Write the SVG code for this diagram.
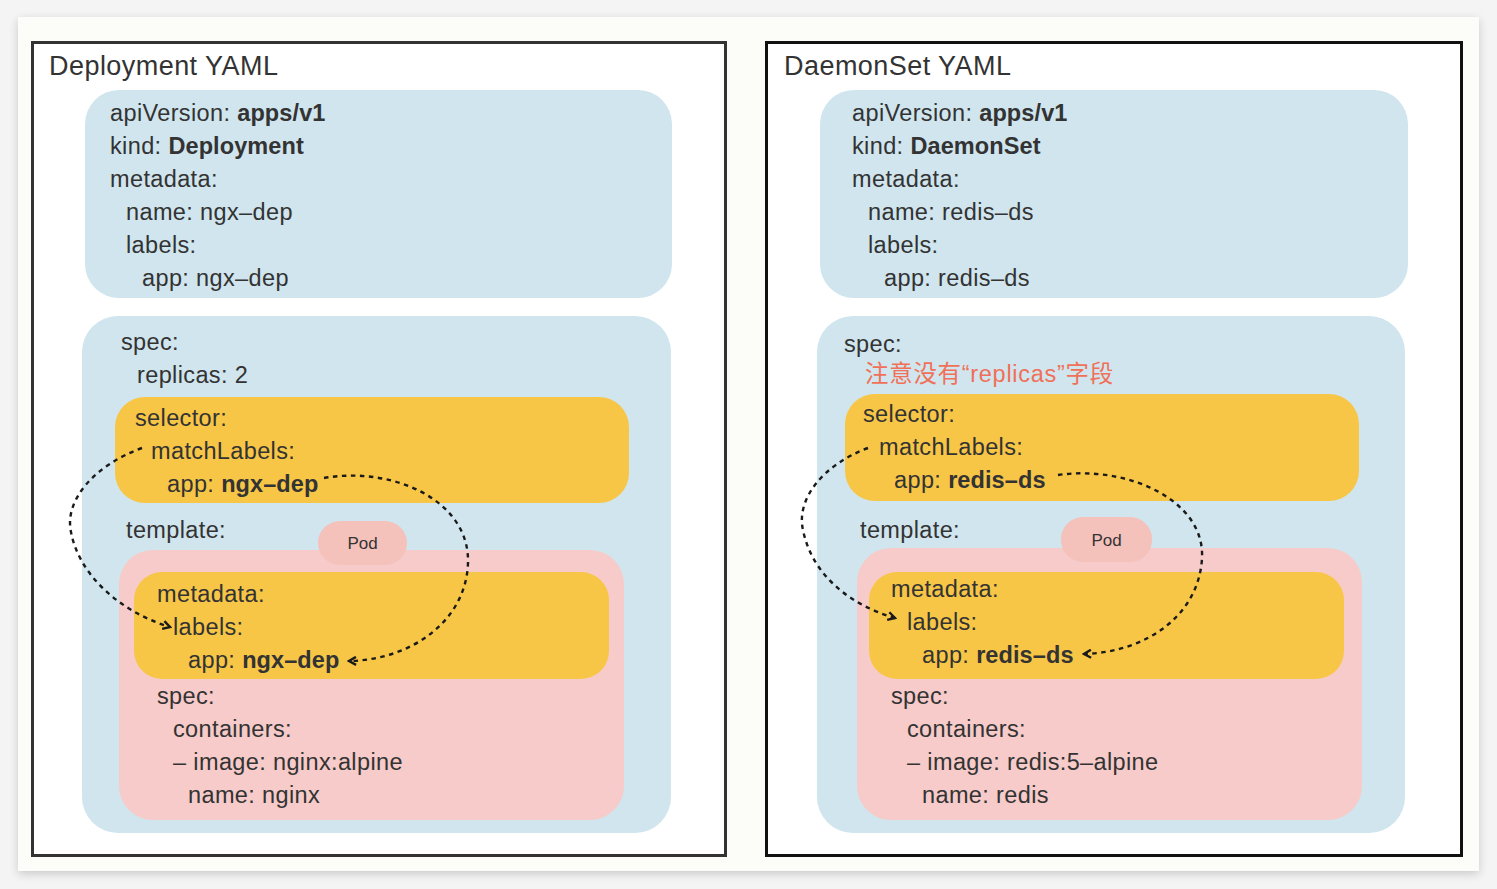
<svg xmlns="http://www.w3.org/2000/svg" width="1497" height="889" viewBox="0 0 1497 889">
<defs>
<filter id="sh" x="-5%" y="-5%" width="110%" height="110%">
<feGaussianBlur in="SourceAlpha" stdDeviation="5"/>
<feOffset dx="0" dy="3"/>
<feComponentTransfer><feFuncA type="linear" slope="0.18"/></feComponentTransfer>
<feMerge><feMergeNode/><feMergeNode in="SourceGraphic"/></feMerge>
</filter>
<marker id="ah" viewBox="0 0 10 10" refX="8" refY="5" markerWidth="10" markerHeight="10" markerUnits="userSpaceOnUse" orient="auto">
<path d="M1,1 L8,5 L1,9" fill="none" stroke="#1a1a1a" stroke-width="2.4" stroke-linejoin="miter"/>
</marker>
</defs>
<style>
text{font-family:"Liberation Sans","Noto Sans CJK SC",Arial,sans-serif;fill:#333;font-size:23.5px;letter-spacing:0.37px}
.t{font-size:27px;letter-spacing:0.45px}
.b{font-weight:bold;letter-spacing:0.1px}
.pod{font-size:17px;letter-spacing:0}
.red{fill:#f07058;letter-spacing:0.7px}
.blue{fill:#d0e5ee}
.yel{fill:#f8c646}
.pink{fill:#f7cbc9}
.pill{fill:#f5c1bb}
.conn{fill:none;stroke:#1a1a1a;stroke-width:2.4;stroke-dasharray:4.5 4.5;marker-end:url(#ah)}
</style>
<rect width="1497" height="889" fill="#f4f4f4"/>
<rect x="18" y="17" width="1461" height="854" fill="#fcfcf8" filter="url(#sh)"/>

<g id="deployment">
<rect x="32.5" y="42.5" width="693" height="813" fill="#fff" stroke="#333" stroke-width="3"/>
<text class="t" x="49" y="75">Deployment YAML</text>
<g id="dep-meta">
<rect class="blue" x="85" y="90" width="587" height="208" rx="34"/>
<text x="110" y="121">apiVersion: <tspan class="b">apps/v1</tspan></text>
<text x="110" y="154">kind: <tspan class="b">Deployment</tspan></text>
<text x="110" y="187">metadata:</text>
<text x="126" y="220">name: ngx–dep</text>
<text x="126" y="253">labels:</text>
<text x="142" y="286">app: ngx–dep</text>
</g>
<g id="dep-spec">
<rect class="blue" x="82" y="316" width="589" height="517" rx="36"/>
<text x="121" y="350">spec:</text>
<text x="137" y="383">replicas: 2</text>
</g>
<g id="dep-selector">
<rect class="yel" x="115" y="397" width="514" height="106" rx="30"/>
<text x="135" y="426">selector:</text>
<text x="151" y="459">matchLabels:</text>
<text x="167" y="492">app: <tspan class="b">ngx–dep</tspan></text>
</g>
<text x="126" y="538">template:</text>
<g id="dep-template">
<rect class="pink" x="119" y="550" width="505" height="270" rx="34"/>
<g id="dep-pod">
<rect class="pill" x="318" y="521" width="89" height="44" rx="22"/>
<text class="pod" x="362.5" y="549" text-anchor="middle">Pod</text>
</g>
<g id="dep-tmeta">
<rect class="yel" x="134" y="572" width="475" height="107" rx="28"/>
<text x="157" y="602">metadata:</text>
<text x="173" y="635">labels:</text>
<text x="188" y="668">app: <tspan class="b">ngx–dep</tspan></text>
</g>
<text x="157" y="704">spec:</text>
<text x="173" y="737">containers:</text>
<text x="173" y="770">– image: nginx:alpine</text>
<text x="188" y="803">name: nginx</text>
</g>
</g>

<g id="daemonset">
<rect x="766.5" y="42.5" width="695" height="813" fill="#fff" stroke="#111" stroke-width="3"/>
<text class="t" x="784" y="75">DaemonSet YAML</text>
<g id="ds-meta">
<rect class="blue" x="820" y="90" width="588" height="208" rx="34"/>
<text x="852" y="121">apiVersion: <tspan class="b">apps/v1</tspan></text>
<text x="852" y="154">kind: <tspan class="b">DaemonSet</tspan></text>
<text x="852" y="187">metadata:</text>
<text x="868" y="220">name: redis–ds</text>
<text x="868" y="253">labels:</text>
<text x="884" y="286">app: redis–ds</text>
</g>
<g id="ds-spec">
<rect class="blue" x="817" y="316" width="588" height="517" rx="36"/>
<text x="844" y="352">spec:</text>
<text class="red" x="865" y="382">注意没有“replicas”字段</text>
</g>
<g id="ds-selector">
<rect class="yel" x="845" y="394" width="514" height="107" rx="30"/>
<text x="863" y="422">selector:</text>
<text x="879" y="455">matchLabels:</text>
<text x="894" y="488">app: <tspan class="b">redis–ds</tspan></text>
</g>
<text x="860" y="538">template:</text>
<g id="ds-template">
<rect class="pink" x="857" y="548" width="505" height="272" rx="34"/>
<g id="ds-pod">
<rect class="pill" x="1061" y="517" width="91" height="45" rx="22"/>
<text class="pod" x="1106.5" y="546" text-anchor="middle">Pod</text>
</g>
<g id="ds-tmeta">
<rect class="yel" x="869" y="572" width="475" height="107" rx="28"/>
<text x="891" y="597">metadata:</text>
<text x="907" y="630">labels:</text>
<text x="922" y="663">app: <tspan class="b">redis–ds</tspan></text>
</g>
<text x="891" y="704">spec:</text>
<text x="907" y="737">containers:</text>
<text x="907" y="770">– image: redis:5–alpine</text>
<text x="922" y="803">name: redis</text>
</g>
</g>

<g id="connectors">
<path class="conn" d="M324,478 C392,466 470,500 468,563 C466,622 410,660 349,661"/>
<path class="conn" d="M142,448 C95,465 64,500 71,532 C79,575 120,612 170,627"/>
<path class="conn" d="M868,448 C822,465 796,500 803,530 C812,575 850,605 895,618"/>
<path class="conn" d="M1058,475 C1127,465 1205,500 1202,558 C1199,615 1147,652 1084,654"/>
</g>
</svg>
